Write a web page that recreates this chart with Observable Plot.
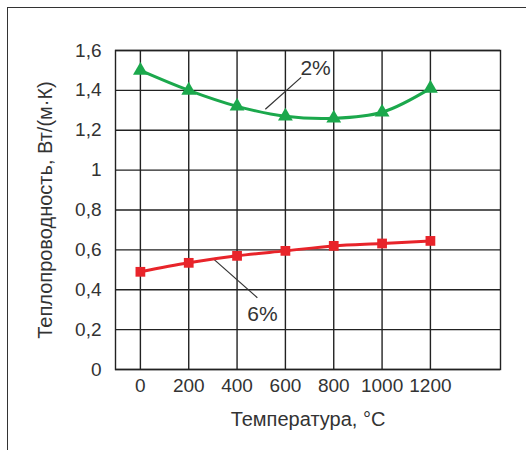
<!DOCTYPE html>
<html>
<head>
<meta charset="utf-8">
<script src="https://cdn.jsdelivr.net/npm/d3@7"></script>
<script src="https://cdn.jsdelivr.net/npm/@observablehq/plot@0.6"></script>
<style>
  html, body { margin: 0; padding: 0; background: #fff; }
  #wrap { position: relative; width: 526px; height: 450px; overflow: hidden; }
  #border { position: absolute; left: 7px; top: 7px; width: 540px; height: 460px;
            border-top: 1.5px solid #333; border-left: 1.5px solid #333; pointer-events: none; }
</style>
</head>
<body>
<div id="wrap"><div id="border"></div></div>
<script>
const temperatures = [0, 200, 400, 600, 800, 1000, 1200];
const series2 = [1.50, 1.40, 1.32, 1.27, 1.26, 1.29, 1.41];
const series6 = [0.49, 0.535, 0.57, 0.595, 0.62, 0.632, 0.645];
const yTicks = [0, 0.2, 0.4, 0.6, 0.8, 1, 1.2, 1.4, 1.6];
const xTicks = [0, 200, 400, 600, 800, 1000, 1200];
const labels = ["2%", "6%"];
const labelX = [725, 505];
const labelY = [1.51, 0.275];
const leaderX1 = [517, 302];
const leaderY1 = [1.305, 0.555];
const leaderX2 = [665, 484];
const leaderY2 = [1.465, 0.36];

const green = "#1ba84c";
const red = "#e8242a";

const d2 = temperatures.map((t, i) => ({t, v: series2[i]}));
const d6 = temperatures.map((t, i) => ({t, v: series6[i]}));
const ann = labels.map((l, i) => ({l, x: labelX[i], y: labelY[i], x1: leaderX1[i], y1: leaderY1[i], x2: leaderX2[i], y2: leaderY2[i]}));

const fmt = d => String(d).replace(".", ",");

const chart = Plot.plot({
  width: 526,
  height: 450,
  marginLeft: 115,
  marginRight: 26,
  marginTop: 50,
  marginBottom: 81,
  style: {fontFamily: "Liberation Sans, Arial, sans-serif", fontSize: "19px", color: "#333", background: "transparent"},
  x: {domain: [-103, 1490]},
  y: {domain: [0, 1.6]},
  marks: [
    Plot.gridX(xTicks, {stroke: "#222", strokeOpacity: 1, strokeWidth: 1.4}),
    Plot.gridY(yTicks, {stroke: "#222", strokeOpacity: 1, strokeWidth: 1.4}),
    Plot.frame({stroke: "#222", strokeWidth: 1.4}),
    Plot.axisX(xTicks, {tickSize: 0, tickPadding: 9, fontSize: 19, fill: "#333", tickFormat: d => String(d), label: null}),
    Plot.axisX({ticks: [], label: "Температура, °C", labelAnchor: "center", labelArrow: "none", labelOffset: 56, fontSize: 20, fill: "#333"}),
    Plot.axisY(yTicks, {tickSize: 0, tickPadding: 14, fontSize: 19, fill: "#333", tickFormat: fmt, label: null}),
    Plot.axisY({ticks: [], label: "Теплопроводность, Вт/(м·К)", labelAnchor: "center", labelArrow: "none", labelOffset: 78, fontSize: 20, fill: "#333"}),
    Plot.link(ann, {x1: "x1", y1: "y1", x2: "x2", y2: "y2", stroke: "#333", strokeWidth: 1.2}),
    Plot.text(ann, {x: "x", y: "y", text: "l", fontSize: 21, fill: "#333"}),
    Plot.line(d2, {x: "t", y: "v", stroke: green, strokeWidth: 3, curve: "catmull-rom"}),
    Plot.dot(d2, {x: "t", y: "v", symbol: "triangle", r: 5.5, fill: green}),
    Plot.line(d6, {x: "t", y: "v", stroke: red, strokeWidth: 3, curve: "catmull-rom"}),
    Plot.dot(d6, {x: "t", y: "v", symbol: "square", r: 5.5, fill: red})
  ]
});
document.getElementById("wrap").prepend(chart);
</script>
</body>
</html>
